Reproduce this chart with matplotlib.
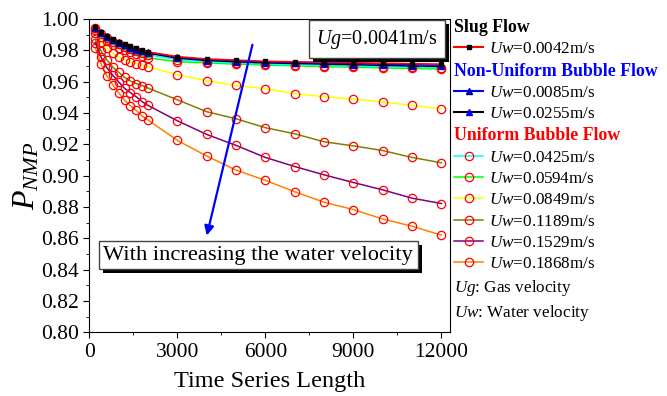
import matplotlib
matplotlib.use('Agg')
from matplotlib import pyplot as plt
from matplotlib import patheffects
from matplotlib.lines import Line2D

plt.rcParams['font.family'] = 'Liberation Serif'
plt.rcParams['mathtext.fontset'] = 'custom'
plt.rcParams['mathtext.rm'] = 'Liberation Serif'
plt.rcParams['mathtext.it'] = 'Liberation Serif:italic'

# Time series length
lengths = [200, 400, 600, 800, 1000, 1200, 1400, 1600, 1800, 2000,
           3000, 4000, 5000, 6000, 7000, 8000, 9000, 10000, 11000, 12000]

# P_NMP for each water velocity (Ug = 0.0041 m/s)
p_0042 = [0.9950, 0.9917, 0.9893, 0.9872, 0.9855, 0.9840, 0.9826, 0.9813, 0.9801, 0.9790,
          0.9760, 0.9745, 0.9738, 0.9730, 0.9727, 0.9724, 0.9721, 0.9718, 0.9715, 0.9712]
p_0085 = [0.9948, 0.9914, 0.9890, 0.9869, 0.9852, 0.9837, 0.9823, 0.9810, 0.9798, 0.9787,
          0.9756, 0.9741, 0.9733, 0.9726, 0.9722, 0.9719, 0.9715, 0.9712, 0.9708, 0.9705]
p_0255 = [0.9945, 0.9910, 0.9885, 0.9864, 0.9847, 0.9832, 0.9818, 0.9805, 0.9793, 0.9782,
          0.9750, 0.9735, 0.9727, 0.9720, 0.9716, 0.9712, 0.9708, 0.9704, 0.9700, 0.9697]
p_0425 = [0.9940, 0.9903, 0.9877, 0.9855, 0.9838, 0.9822, 0.9808, 0.9795, 0.9783, 0.9772,
          0.9740, 0.9727, 0.9719, 0.9712, 0.9707, 0.9703, 0.9699, 0.9695, 0.9691, 0.9688]
p_0594 = [0.9932, 0.9888, 0.9860, 0.9837, 0.9818, 0.9802, 0.9787, 0.9774, 0.9762, 0.9752,
          0.9727, 0.9720, 0.9712, 0.9706, 0.9701, 0.9696, 0.9692, 0.9688, 0.9684, 0.9680]
p_0849 = [0.9910, 0.9855, 0.9812, 0.9780, 0.9757, 0.9740, 0.9726, 0.9715, 0.9705, 0.9695,
          0.9644, 0.9606, 0.9576, 0.9555, 0.9523, 0.9504, 0.9489, 0.9470, 0.9448, 0.9427]
p_1189 = [0.9870, 0.9795, 0.9738, 0.9693, 0.9660, 0.9627, 0.9604, 0.9587, 0.9575, 0.9559,
          0.9484, 0.9408, 0.9363, 0.9306, 0.9267, 0.9216, 0.9190, 0.9160, 0.9116, 0.9082]
p_1529 = [0.9850, 0.9755, 0.9688, 0.9640, 0.9598, 0.9557, 0.9530, 0.9503, 0.9472, 0.9448,
          0.9350, 0.9263, 0.9193, 0.9116, 0.9058, 0.9005, 0.8956, 0.8909, 0.8856, 0.8822]
p_1868 = [0.9817, 0.9712, 0.9634, 0.9580, 0.9529, 0.9482, 0.9446, 0.9416, 0.9380, 0.9355,
          0.9225, 0.9125, 0.9035, 0.8970, 0.8897, 0.8830, 0.8783, 0.8723, 0.8677, 0.8620]

fig = plt.figure(figsize=(6.67, 3.96), dpi=100)
ax = fig.add_axes([0.134, 0.161, 0.541, 0.791])

circ = dict(marker='o', ms=6, mfc='none', mec='red', mew=0.9, lw=1.1)
ax.plot(lengths, p_1868, color='#ff8000', **circ)
ax.plot(lengths, p_1529, color='#800080', **circ)
ax.plot(lengths, p_1189, color='#808000', **circ)
ax.plot(lengths, p_0849, color='#ffff00', **circ)
ax.plot(lengths, p_0594, color='#00ff00', **circ)
ax.plot(lengths, p_0425, color='#00ffff', **circ)
ax.plot(lengths, p_0255, color='black', marker='^', ms=4.5, mfc='blue', mec='blue', lw=1.1)
ax.plot(lengths, p_0085, color='blue', marker='^', ms=4.5, mfc='blue', mec='navy', lw=1.1)
ax.plot(lengths, p_0042, color='red', marker='s', ms=3.5, mfc='black', mec='black', lw=1.1)

ax.set_xlim(0, 12300)
ax.set_ylim(0.80, 1.00)
ax.set_xticks([0, 3000, 6000, 9000, 12000])
ax.set_xticks([1500, 4500, 7500, 10500], minor=True)
ax.set_yticks([0.80 + 0.02 * i for i in range(11)])
ax.set_yticks([0.81 + 0.02 * i for i in range(10)], minor=True)
ax.set_yticklabels(['%.2f' % (0.80 + 0.02 * i) for i in range(11)])
ax.tick_params(axis='both', which='major', labelsize=15.5, direction='out', length=4)
ax.tick_params(axis='both', which='minor', direction='out', length=2)
ax.set_xlabel('Time Series Length', fontsize=17.5, labelpad=7)
ax.set_ylabel(r'$P_{NMP}$', fontsize=23, labelpad=0)

shadow = [patheffects.SimplePatchShadow(offset=(3, -3), shadow_rgbFace='black', alpha=1),
          patheffects.Normal()]

# annotations
t1 = ax.text(9800, 0.9872, r'$\it{Ug}$=0.0041m/s', fontsize=14.5, ha='center', va='center',
             bbox=dict(boxstyle='square,pad=0.36', fc='white', ec='#444444', lw=1.0))
t1.get_bbox_patch().set_path_effects(shadow)
ax.annotate('', xy=(3980, 0.860), xytext=(5580, 0.9853),
            arrowprops=dict(arrowstyle='-|>', color='blue', lw=1.6, mutation_scale=14))
t2 = ax.text(5760, 0.8492, 'With increasing the water velocity', fontsize=16.2, ha='center',
             va='center', bbox=dict(boxstyle='square,pad=0.2', fc='white', ec='#444444', lw=1.0))
t2.get_bbox_patch().set_path_effects(shadow)

# legend
blank = Line2D([], [], alpha=0)
handles = [
    blank,
    Line2D([], [], color='red', marker='s', ms=3.5, mfc='black', mec='black'),
    blank,
    Line2D([], [], color='blue', marker='^', ms=4.5, mfc='blue', mec='navy'),
    Line2D([], [], color='black', marker='^', ms=4.5, mfc='blue', mec='blue'),
    blank,
    Line2D([], [], color='#00ffff', **circ),
    Line2D([], [], color='#00ff00', **circ),
    Line2D([], [], color='#ffff00', **circ),
    Line2D([], [], color='#808000', **circ),
    Line2D([], [], color='#800080', **circ),
    Line2D([], [], color='#ff8000', **circ),
    blank,
    blank,
]
labels = [
    'Slug Flow',
    r'$\it{Uw}$=0.0042m/s',
    'Non-Uniform Bubble Flow',
    r'$\it{Uw}$=0.0085m/s',
    r'$\it{Uw}$=0.0255m/s',
    'Uniform Bubble Flow',
    r'$\it{Uw}$=0.0425m/s',
    r'$\it{Uw}$=0.0594m/s',
    r'$\it{Uw}$=0.0849m/s',
    r'$\it{Uw}$=0.1189m/s',
    r'$\it{Uw}$=0.1529m/s',
    r'$\it{Uw}$=0.1868m/s',
    r'$\it{Ug}$: Gas velocity',
    r'$\it{Uw}$: Water velocity',
]
leg_fs = 12.3
hlen, hpad = 1.7, 0.35
leg = fig.legend(handles, labels, loc='upper left', bbox_to_anchor=(0.681, 0.952),
                 frameon=False, fontsize=leg_fs, handlelength=hlen, handletextpad=hpad,
                 labelspacing=0.31, borderaxespad=0, borderpad=0)
shift = (hlen + hpad) * leg_fs * fig.dpi / 72.0
header_colors = {0: 'black', 2: 'blue', 5: 'red'}
for i, t in enumerate(leg.get_texts()):
    if i in header_colors:
        t.set_fontweight('bold')
        t.set_color(header_colors[i])
        t.set_fontsize(12.8)
    if handles[i] is blank:
        t.set_x(-shift)

fig.savefig('out.png', dpi=100)
